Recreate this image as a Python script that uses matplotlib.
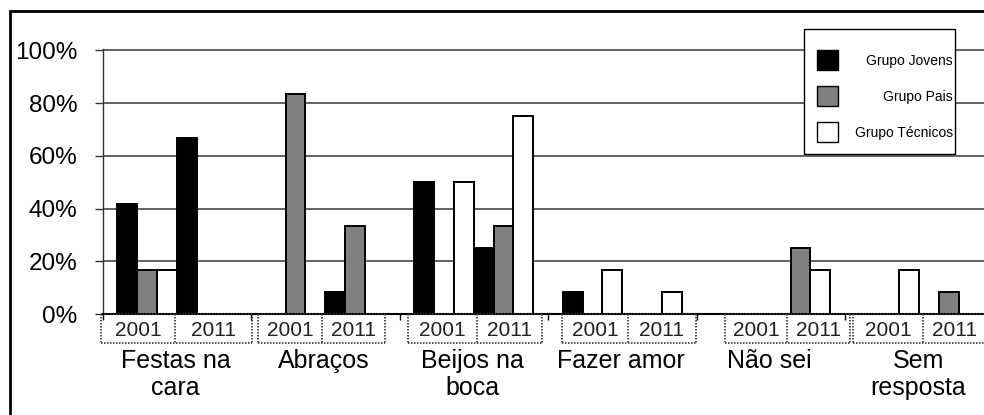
import matplotlib
matplotlib.use("Agg")
import matplotlib.pyplot as plt
from matplotlib.patches import Rectangle
from matplotlib.lines import Line2D

plt.rcParams['font.family'] = ['Liberation Sans', 'DejaVu Sans']

categories = ["Festas na\ncara", "Abraços", "Beijos na\nboca", "Fazer amor", "Não sei", "Sem\nresposta"]
years = ["2001", "2011"]
groups = ["Grupo Jovens", "Grupo Pais", "Grupo Técnicos"]

# one value per (category, year): Festas 2001, Festas 2011, Abraços 2001, ...
jovens = [41.7, 66.7, 0, 8.3, 50, 25, 8.3, 0, 0, 0, 0, 0]
pais = [16.7, 0, 83.3, 33.3, 0, 33.3, 0, 0, 0, 25, 0, 8.3]
tecnicos = [16.7, 0, 0, 0, 50, 75, 16.7, 8.3, 0, 16.7, 16.7, 0]
y_ticks = [0, 20, 40, 60, 80, 100]

colours = ["#000000", "#808080", "#ffffff"]

W, H = 984, 415


def px(x, y):
    return x / W, 1 - y / H


fig = plt.figure(figsize=(W / 100, H / 100), dpi=100)
fig.patch.set_facecolor("white")

# plot area (runs a little past the right edge, like the original)
ax = fig.add_axes([102.5 / W, (H - 314) / H, 891 / W, 265 / H])

step = 7.5  # one category = 6 bars + gap
for g, vals in enumerate([jovens, pais, tecnicos]):
    xs = []
    for i in range(len(categories)):
        for k in range(len(years)):
            xs.append(i * step + 0.75 + k * 3 + g + 0.5)
    ax.bar(xs, vals, width=1.0, color=colours[g], edgecolor="black",
           linewidth=1.4, zorder=3)

ax.set_xlim(0, step * len(categories))
ax.set_ylim(0, 100.5)
ax.set_yticks(y_ticks)
ax.set_yticklabels([f"{v}%" for v in y_ticks], fontsize=17.5)
ax.set_xticks([i * step for i in range(len(categories) + 1)])
ax.set_xticklabels([])
ax.tick_params(axis='x', length=4, width=1, direction='out', color='black')
ax.tick_params(axis='y', length=6, width=1, pad=12, color='#333333')
ax.yaxis.grid(True, color='#555555', linewidth=1.3, zorder=0)
ax.set_axisbelow(True)
for s in ['top', 'right']:
    ax.spines[s].set_visible(False)
ax.spines['left'].set_color('#333333')
ax.spines['left'].set_linewidth(1.0)
ax.spines['bottom'].set_linewidth(1.5)
ax.spines['bottom'].set_zorder(4)

# category names under the year boxes
for i, cat in enumerate(categories):
    ax.text(i * step + step / 2 - 0.05, -0.133, cat, transform=ax.get_xaxis_transform(),
            ha='center', va='top', fontsize=18, linespacing=1.14)

# dotted year boxes (left, divider, right) in pixels
year_boxes = [(101, 175, 252), (258, 322, 385), (408, 477, 542),
              (562, 628, 696), (725, 787, 850), (853, 923, 986)]
box_top, box_bot = 314, 343
dot = dict(color='#333333', linewidth=1.2, linestyle=(0, (0.9, 0.9)))
for left, mid, right in year_boxes:
    for xa, ya, xb, yb in [(left, box_top, right, box_top), (left, box_bot, right, box_bot),
                           (left, box_top, left, box_bot), (mid, box_top, mid, box_bot),
                           (right, box_top, right, box_bot)]:
        (x0, y0), (x1, y1) = px(xa, ya), px(xb, yb)
        fig.add_artist(Line2D([x0, x1], [y0, y1], transform=fig.transFigure, **dot))
    for k, (a, b) in enumerate([(left, mid), (mid, right)]):
        tx, ty = px((a + b) / 2, 336)
        fig.text(tx, ty, years[k], ha='center', va='baseline', fontsize=15, color='#222222')

# legend box
lx0, ly0 = px(804, 154)
lx1, ly1 = px(955, 29)
fig.add_artist(Rectangle((lx0, ly0), lx1 - lx0, ly1 - ly0, transform=fig.transFigure,
                         facecolor='white', edgecolor='black', linewidth=1.0, zorder=5))
for g, name in enumerate(groups):
    yc = [60, 96, 132][g]
    sx, sy = px(817, yc + 10)
    fig.add_artist(Rectangle((sx, sy), 21 / W, 20 / H, transform=fig.transFigure,
                             facecolor=colours[g], edgecolor='black', linewidth=1.0, zorder=6))
    tx, ty = px(953, yc + 1)
    fig.text(tx, ty, name, ha='right', va='center', fontsize=10, zorder=7)

# outer frame (cut off at the right and bottom)
fx, fy = px(10, 11)
fig.add_artist(Rectangle((fx, -0.2), 1.2, fy + 0.2, transform=fig.transFigure,
                         facecolor='none', edgecolor='black', linewidth=2.0))

fig.savefig("out.png", dpi=100)
